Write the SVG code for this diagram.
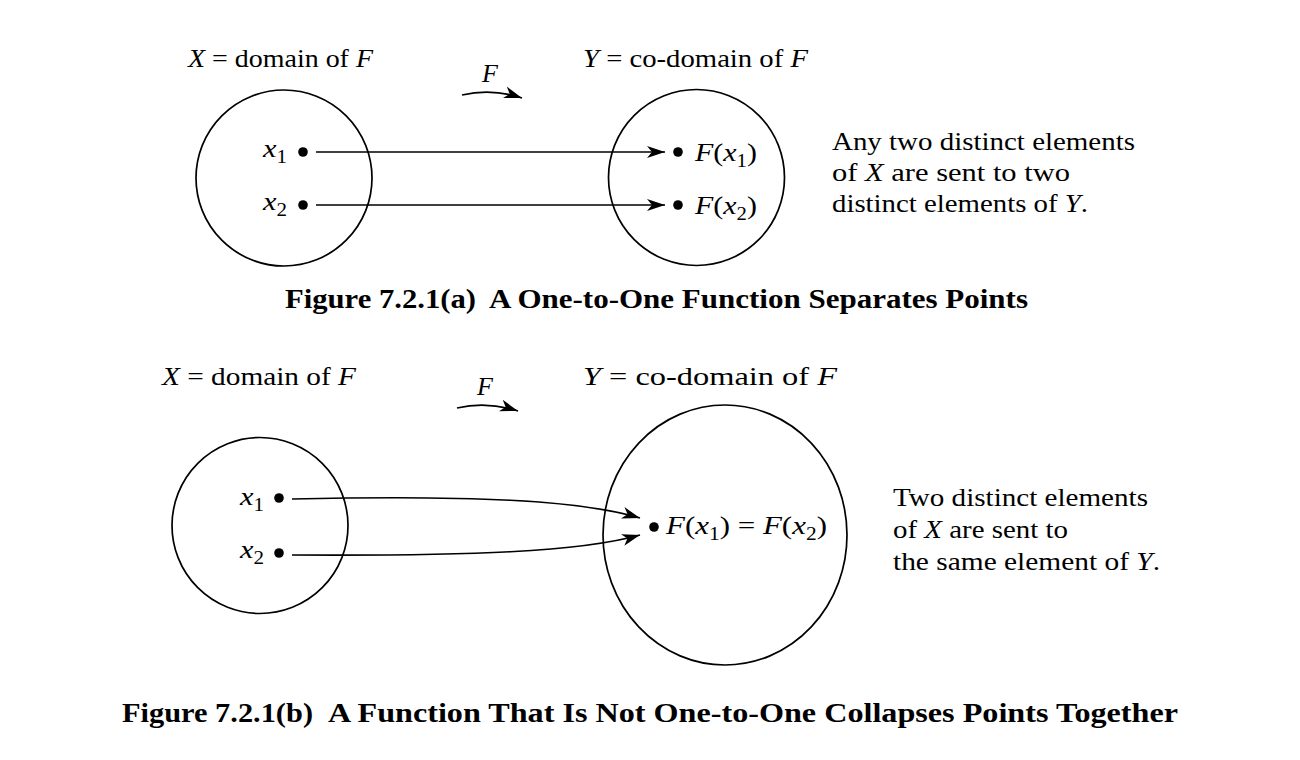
<svg xmlns="http://www.w3.org/2000/svg" width="1300" height="760" viewBox="0 0 1300 760">
<style>
  text { font-family: "Liberation Serif", "Times New Roman", serif; font-size: 26px; fill: #000; }
  .it { font-style: italic; }
  .sub { font-size: 18px; font-style: normal; }
  .cap { font-weight: bold; font-size: 28px; }
  .set { fill: none; stroke: #000; stroke-width: 1.7; }
  .conn { fill: none; stroke: #000; stroke-width: 1.7; }
  .dot { fill: #000; }
</style>
<defs>
  <marker id="arrow" markerUnits="userSpaceOnUse" markerWidth="20" markerHeight="14" refX="18" refY="7" orient="auto">
    <path d="M0,1 L18,7 L0,13 L5,7 z" fill="#000"/>
  </marker>
</defs>
<rect width="1300" height="760" fill="#fff"/>

<!-- Figure (a) -->
<g id="a-domain">
  <circle class="set" cx="284" cy="178" r="88"/>
  <text x="188" y="67" textLength="185" lengthAdjust="spacingAndGlyphs"><tspan class="it">X</tspan> = domain of <tspan class="it">F</tspan></text>
  <circle class="dot" cx="303" cy="152" r="4.8"/>
  <circle class="dot" cx="303" cy="205" r="4.8"/>
  <text x="263" y="157" textLength="24" lengthAdjust="spacingAndGlyphs"><tspan class="it">x</tspan><tspan class="sub" dy="6">1</tspan></text>
  <text x="263" y="210" textLength="24" lengthAdjust="spacingAndGlyphs"><tspan class="it">x</tspan><tspan class="sub" dy="6">2</tspan></text>
</g>
<g id="a-codomain">
  <circle class="set" cx="696.5" cy="177.5" r="88"/>
  <text x="583" y="67" textLength="225" lengthAdjust="spacingAndGlyphs"><tspan class="it">Y</tspan> = co-domain of <tspan class="it">F</tspan></text>
  <circle class="dot" cx="678" cy="152" r="4.8"/>
  <circle class="dot" cx="678" cy="205" r="4.8"/>
  <text x="695" y="161" textLength="62" lengthAdjust="spacingAndGlyphs"><tspan class="it">F</tspan>(<tspan class="it">x</tspan><tspan class="sub" dy="6">1</tspan><tspan dy="-6">)</tspan></text>
  <text x="695" y="214" textLength="62" lengthAdjust="spacingAndGlyphs"><tspan class="it">F</tspan>(<tspan class="it">x</tspan><tspan class="sub" dy="6">2</tspan><tspan dy="-6">)</tspan></text>
</g>
<g id="a-note">
  <text x="832" y="150" textLength="303" lengthAdjust="spacingAndGlyphs">Any two distinct elements</text>
  <text x="832" y="181" textLength="238" lengthAdjust="spacingAndGlyphs">of <tspan class="it">X</tspan> are sent to two</text>
  <text x="832" y="212" textLength="256" lengthAdjust="spacingAndGlyphs">distinct elements of <tspan class="it">Y</tspan>.</text>
</g>
<g id="a-F">
  <text class="it" x="482" y="82">F</text>
</g>
<g id="a-caption">
  <text class="cap" x="285" y="308" textLength="191" lengthAdjust="spacingAndGlyphs">Figure 7.2.1(a)</text>
  <text class="cap" x="489" y="308" textLength="539" lengthAdjust="spacingAndGlyphs">A One-to-One Function Separates Points</text>
</g>

<!-- Figure (b) -->
<g id="b-domain">
  <circle class="set" cx="260" cy="525.5" r="88"/>
  <text x="162" y="385" textLength="194" lengthAdjust="spacingAndGlyphs"><tspan class="it">X</tspan> = domain of <tspan class="it">F</tspan></text>
  <circle class="dot" cx="279" cy="498" r="4.8"/>
  <circle class="dot" cx="279" cy="553" r="4.8"/>
  <text x="240" y="505" textLength="24" lengthAdjust="spacingAndGlyphs"><tspan class="it">x</tspan><tspan class="sub" dy="6">1</tspan></text>
  <text x="240" y="558" textLength="24" lengthAdjust="spacingAndGlyphs"><tspan class="it">x</tspan><tspan class="sub" dy="6">2</tspan></text>
</g>
<g id="b-codomain">
  <ellipse class="set" cx="725" cy="535" rx="122" ry="130"/>
  <text x="583" y="385" textLength="254" lengthAdjust="spacingAndGlyphs"><tspan class="it">Y</tspan> = co-domain of <tspan class="it">F</tspan></text>
  <circle class="dot" cx="654" cy="527" r="4.8"/>
  <text x="666" y="534" textLength="161" lengthAdjust="spacingAndGlyphs"><tspan class="it">F</tspan>(<tspan class="it">x</tspan><tspan class="sub" dy="6">1</tspan><tspan dy="-6">) = </tspan><tspan class="it">F</tspan>(<tspan class="it">x</tspan><tspan class="sub" dy="6">2</tspan><tspan dy="-6">)</tspan></text>
</g>
<g id="b-note">
  <text x="893" y="506" textLength="255" lengthAdjust="spacingAndGlyphs">Two distinct elements</text>
  <text x="893" y="538" textLength="175" lengthAdjust="spacingAndGlyphs">of <tspan class="it">X</tspan> are sent to</text>
  <text x="893" y="570" textLength="267" lengthAdjust="spacingAndGlyphs">the same element of <tspan class="it">Y</tspan>.</text>
</g>
<g id="b-F">
  <text class="it" x="477" y="395">F</text>
</g>
<g id="b-caption">
  <text class="cap" x="122" y="722" textLength="191" lengthAdjust="spacingAndGlyphs">Figure 7.2.1(b)</text>
  <text class="cap" x="328" y="722" textLength="850" lengthAdjust="spacingAndGlyphs">A Function That Is Not One-to-One Collapses Points Together</text>
</g>

<!-- Connectors -->
<g id="connectors">
  <path class="conn" d="M462,95 Q492,88 522,98" marker-end="url(#arrow)"/>
  <line class="conn" x1="316" y1="152" x2="665" y2="152" marker-end="url(#arrow)"/>
  <line class="conn" x1="316" y1="205" x2="665" y2="205" marker-end="url(#arrow)"/>
  <path class="conn" d="M457,408 Q487,401 518,411" marker-end="url(#arrow)"/>
  <path class="conn" d="M292,499 C470,495 580,500 640,518" marker-end="url(#arrow)"/>
  <path class="conn" d="M292,555 C470,556 580,552 640,535" marker-end="url(#arrow)"/>
</g>
</svg>
